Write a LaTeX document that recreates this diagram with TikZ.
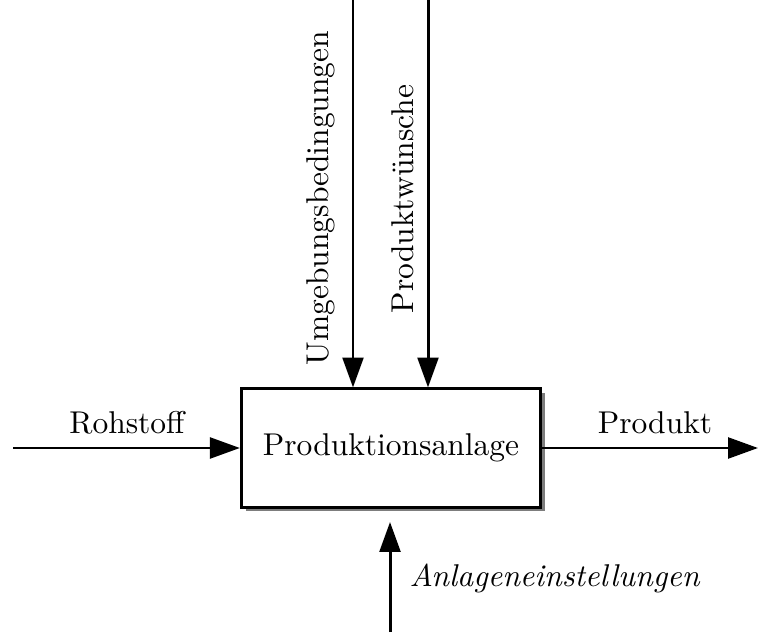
\documentclass[tikz,border=0pt]{standalone}
\usetikzlibrary{arrows.meta,shadows,calc}
\begin{document}
\begin{tikzpicture}[x=0.3175pt,y=-0.3175pt,
  flow/.style={line width=0.95pt,-{Triangle[length=9.5pt,width=6.6pt]}},
  unit/.style={draw,line width=0.95pt,fill=white,minimum width=95pt,minimum height=37.5pt,
    inner sep=0pt,drop shadow={shadow xshift=1.4pt,shadow yshift=-1.4pt,fill=black!60,opacity=.85}},
  lbl/.style={inner sep=0pt,font=\fontsize{10}{12}\selectfont}]
\useasboundingbox (0,0) rectangle (758,635);
% the process block
\node[unit,lbl] (box) at (391,448) {Produktionsanlage};
% loose ends of the flows
\coordinate (rawin) at (13,448);
\coordinate (prodout) at (758,448);
\coordinate (envtop) at (353,0);
\coordinate (wishtop) at (428,0);
\coordinate (setbot) at (390,632);
\coordinate (settip) at (390,522);
% flows
\draw[flow] (rawin) -- (box.west);
\draw[flow] (box.east) -- (prodout);
\draw[flow] (envtop) -- (envtop |- box.north);
\draw[flow] (wishtop) -- (wishtop |- box.north);
\draw[flow] (setbot) -- (settip);
% labels
\node[lbl] (rawlbl) at (127,423) {Rohstoff};
\node[lbl] (prodlbl) at (655,423) {Produkt};
\node[lbl,rotate=90] (envlbl) at (321,198) {Umgebungsbedingungen};
\node[lbl,rotate=90] (wishlbl) at (403,199) {Produktwünsche};
\node[lbl,anchor=west] (setlbl) at (409,578) {\itshape Anlageneinstellungen};
\end{tikzpicture}
\end{document}
